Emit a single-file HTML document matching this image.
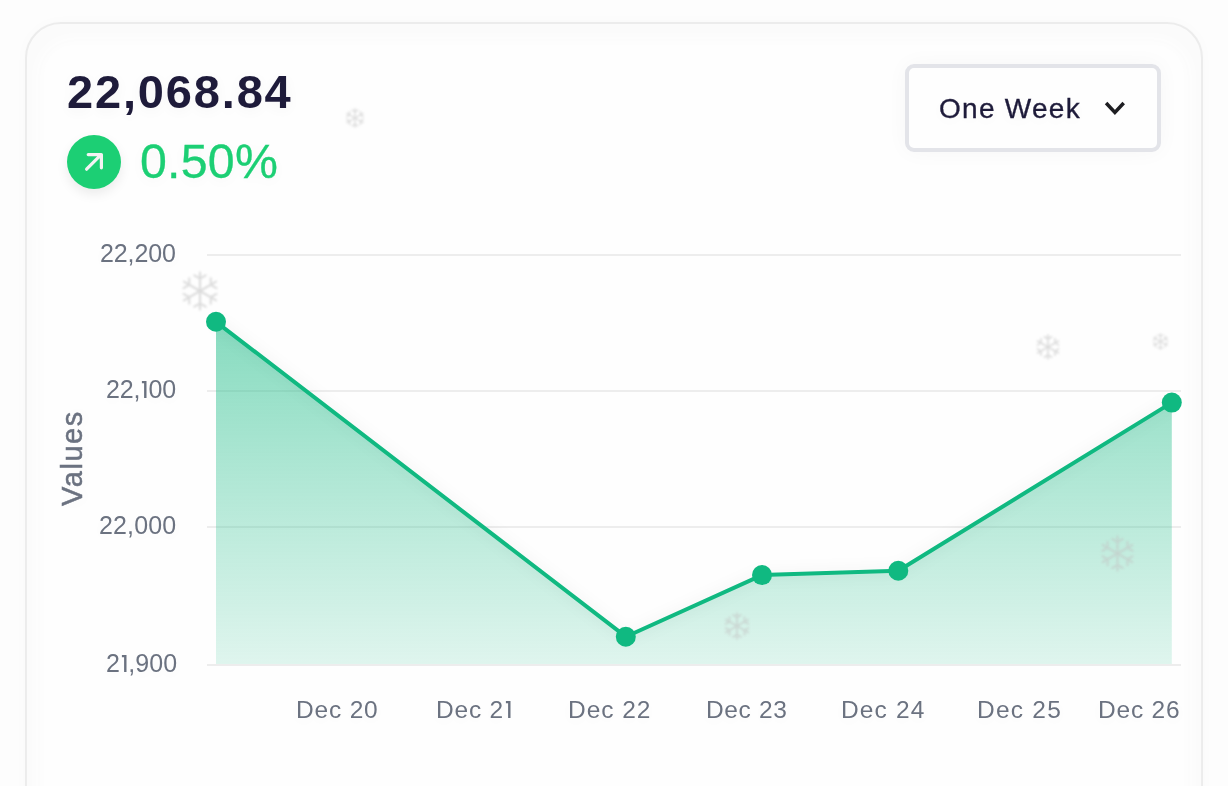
<!DOCTYPE html>
<html><head><meta charset="utf-8">
<style>
html,body{margin:0;padding:0;}
body{width:1228px;height:786px;overflow:hidden;background:#fdfdfd;position:relative;font-family:"Liberation Sans",sans-serif;}
.card{position:absolute;left:25px;top:22px;width:1174px;height:820px;border:2px solid #ececec;border-radius:36px;background:#fbfbfb;box-shadow:0 0 14px rgba(0,0,0,0.02);}
.inner{position:absolute;left:44px;top:45px;width:1140px;height:800px;border-radius:30px;background:#fefefe;box-shadow:0 0 16px 6px #fefefe;}
.t{position:absolute;white-space:nowrap;line-height:1;will-change:transform;text-shadow:0 3px 14px rgba(0,0,0,0.045);}
#icon{position:absolute;left:67px;top:135px;width:54px;height:54px;border-radius:50%;background:#1ccf74;box-shadow:0 5px 12px rgba(0,0,0,0.08);}
#btn{position:absolute;left:905px;top:64px;width:248px;height:80px;border:4px solid #e3e4e9;border-radius:9px;box-shadow:0 0 22px rgba(0,0,0,0.035);}
.sf{position:absolute;stroke:#c2c2c2;opacity:0.55;}
.one{vertical-align:baseline;margin-left:0.6px}
.grid{position:absolute;left:207px;width:974px;height:2px;background:#ededed;}
#vals{will-change:transform;left:57.85px;top:506.4px;font-size:29px;letter-spacing:1.55px;color:#6b7280;transform:rotate(-90deg);transform-origin:0 0;-webkit-text-stroke:0.5px #6b7280;}
</style></head>
<body>
<div class="card"></div><div class="inner"></div>
<div class="t" id="big" style="left:67.18px;top:68.00px;font-size:47px;letter-spacing:1.833px;color:#1e1b3a;font-weight:bold;">22,068.84</div>
<div id="icon"><svg width="54" height="54" viewBox="0 0 54 54"><path d="M19.6 34.2 L33.6 20.2 M21.2 19.6 H34.4 V32.8" stroke="#f3f3f3" stroke-width="3.2" fill="none" stroke-linecap="round" stroke-linejoin="round"/></svg></div>
<div class="t" id="pct" style="left:140.02px;top:137.00px;font-size:48.3px;letter-spacing:0.219px;color:#1ccf74;-webkit-text-stroke:0.3px #1ccf74;">0.50%</div>
<div id="btn"></div>
<div class="t" id="btnt" style="left:938.84px;top:95.00px;font-size:28px;letter-spacing:1.267px;color:#1e1b3a;-webkit-text-stroke:0.35px #1e1b3a;">One Week</div>
<svg style="position:absolute;left:1103px;top:100px" width="24" height="18" viewBox="0 0 24 18"><path d="M3.1 3.0 L11.9 12.4 L20.7 3.0" stroke="#1e1e22" stroke-width="3.5" fill="none"/></svg>

<div class="grid" style="top:254px"></div>
<div class="grid" style="top:390px"></div>
<div class="grid" style="top:526px"></div>
<div class="grid" style="top:664px"></div>

<div class="t" id="y1" style="left:100.14px;top:240.60px;font-size:25px;letter-spacing:-0.115px;color:#6b7280;">22,200</div>
<div class="t" id="y2" style="left:106.33px;top:376.60px;font-size:25px;letter-spacing:-0.111px;color:#6b7280;">22,<svg class="one" width="7.5" height="17.5" viewBox="0 0 7.5 17.5"><path d="M0.9 0H5.5V17.5H3.1V2.2H0.9Z" fill="currentColor"/></svg>00</div>
<div class="t" id="y3" style="left:98.66px;top:512.60px;font-size:25px;letter-spacing:0.153px;color:#6b7280;">22,000</div>
<div class="t" id="y4" style="left:105.60px;top:650.60px;font-size:25px;letter-spacing:0.140px;color:#6b7280;">2<svg class="one" width="7.5" height="17.5" viewBox="0 0 7.5 17.5"><path d="M0.9 0H5.5V17.5H3.1V2.2H0.9Z" fill="currentColor"/></svg>,900</div>
<div class="t" id="vals">Values</div>

<svg style="position:absolute;left:0;top:0" width="1228" height="786">
<defs>
<linearGradient id="ag" x1="0" y1="321" x2="0" y2="664" gradientUnits="userSpaceOnUse">
<stop offset="0" stop-color="#10b981" stop-opacity="0.5"/>
<stop offset="0.45" stop-color="#10b981" stop-opacity="0.33"/>
<stop offset="1" stop-color="#10b981" stop-opacity="0.13"/>
</linearGradient>
</defs>
<path d="M216 321.8 L625.8 636.7 L762 575.1 L898.3 570.8 L1171.8 402.6 L1171.8 664 L216 664 Z" fill="url(#ag)"/>
<path style="filter:drop-shadow(0 0 7px rgba(0,0,0,0.08))" d="M216 321.8 L625.8 636.7 L762 575.1 L898.3 570.8 L1171.8 402.6" fill="none" stroke="#10b981" stroke-width="4" stroke-linejoin="round"/>
<g fill="#10b981">
<circle cx="216" cy="321.8" r="10"/>
<circle cx="625.8" cy="636.7" r="10"/>
<circle cx="762" cy="575.1" r="10"/>
<circle cx="898.3" cy="570.8" r="10"/>
<circle cx="1171.8" cy="402.6" r="10"/>
</g>
</svg>

<svg width="0" height="0" style="position:absolute"><defs><symbol id="sf" viewBox="-21 -21 42 42"><g id="arm" stroke-linecap="round"><path d="M0 0 V-19.5 M-6 -16.5 L0 -13 L6 -16.5" fill="none"/></g><use href="#arm" transform="rotate(60)"/><use href="#arm" transform="rotate(120)"/><use href="#arm" transform="rotate(180)"/><use href="#arm" transform="rotate(240)"/><use href="#arm" transform="rotate(300)"/></symbol></defs></svg>
<div class="sf" style="left:345px;top:107.5px;filter:blur(0.9px)"><svg width="20" height="20" style="display:block;overflow:visible"><use href="#sf" stroke-width="3"/></svg></div>
<div class="sf" style="left:180px;top:271px;filter:blur(1px)"><svg width="40" height="40" style="display:block;overflow:visible"><use href="#sf" stroke-width="2.2"/></svg></div>
<div class="sf" style="left:1035px;top:334px;filter:blur(0.9px)"><svg width="26" height="26" style="display:block;overflow:visible"><use href="#sf" stroke-width="2.6"/></svg></div>
<div class="sf" style="left:1151.5px;top:332.5px;filter:blur(1px)"><svg width="17" height="17" style="display:block;overflow:visible"><use href="#sf" stroke-width="3"/></svg></div>
<div class="sf" style="left:1099px;top:535px;filter:blur(1px)"><svg width="37" height="37" style="display:block;overflow:visible"><use href="#sf" stroke-width="2.3"/></svg></div>
<div class="sf" style="left:722.5px;top:611.5px;filter:blur(0.9px)"><svg width="28" height="28" style="display:block;overflow:visible"><use href="#sf" stroke-width="2.6"/></svg></div>
<div class="t" id="d1" style="left:295.84px;top:697.50px;font-size:24.5px;letter-spacing:0.817px;color:#6b7280;">Dec 20</div>
<div class="t" id="d2" style="left:435.62px;top:697.50px;font-size:24.5px;letter-spacing:0.790px;color:#6b7280;">Dec 2<svg class="one" width="7.5" height="17.5" viewBox="0 0 7.5 17.5"><path d="M0.9 0H5.5V17.5H3.1V2.2H0.9Z" fill="currentColor"/></svg></div>
<div class="t" id="d3" style="left:568.10px;top:697.50px;font-size:24.5px;letter-spacing:0.943px;color:#6b7280;">Dec 22</div>
<div class="t" id="d4" style="left:705.84px;top:697.50px;font-size:24.5px;letter-spacing:0.637px;color:#6b7280;">Dec 23</div>
<div class="t" id="d5" style="left:840.84px;top:697.50px;font-size:24.5px;letter-spacing:1.147px;color:#6b7280;">Dec 24</div>
<div class="t" id="d6" style="left:976.62px;top:697.50px;font-size:24.5px;letter-spacing:1.226px;color:#6b7280;">Dec 25</div>
<div class="t" id="d7" style="left:1098.36px;top:697.50px;font-size:24.5px;letter-spacing:0.809px;color:#6b7280;">Dec 26</div>
</body></html>
